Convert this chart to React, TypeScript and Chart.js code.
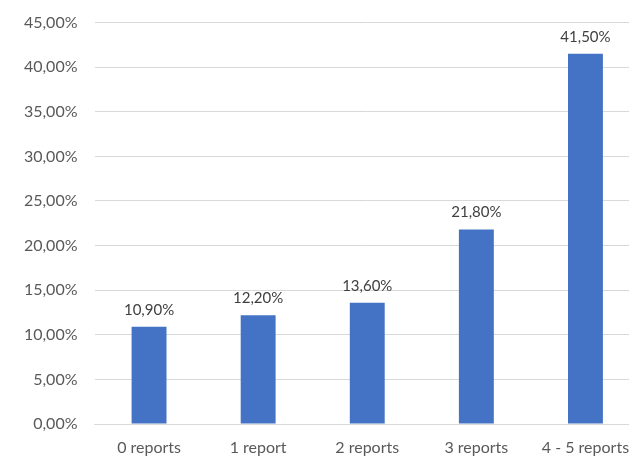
import React, { useEffect, useRef } from "react";
import { Chart, registerables } from "chart.js";

Chart.register(...registerables);

const categories = ["0 reports", "1 report", "2 reports", "3 reports", "4 - 5 reports"];
const values = [10.9, 12.2, 13.6, 21.8, 41.5];
const yMax = 45;
const yStep = 5;

const fmt = (v: number) => v.toFixed(2).replace(".", ",") + "%";

const valueLabels = {
  id: "valueLabels",
  afterDatasetsDraw(chart: any) {
    const ctx = chart.ctx;
    const meta = chart.getDatasetMeta(0);
    ctx.save();
    ctx.font = "15px Lato";
    ctx.fillStyle = "#404040";
    ctx.textAlign = "center";
    ctx.textBaseline = "middle";
    meta.data.forEach((bar: any, i: number) => {
      ctx.fillText(fmt(values[i]), bar.x, bar.y - 17);
    });
    ctx.restore();
  },
};

export default function App() {
  const ref = useRef<HTMLCanvasElement>(null);
  useEffect(() => {
    if (!ref.current) return;
    const chart = new Chart(ref.current, {
      type: "bar",
      data: {
        labels: categories,
        datasets: [
          {
            data: values,
            backgroundColor: "#4472C4",
            barPercentage: 0.32,
            categoryPercentage: 1,
          },
        ],
      },
      options: {
        animation: false,
        responsive: false,
        maintainAspectRatio: false,
        layout: { padding: { top: 18, left: 0, right: 5, bottom: 0 } },
        plugins: { legend: { display: false }, tooltip: { enabled: false } },
        scales: {
          x: {
            afterFit: (s: any) => { s.height = 32; },
            grid: { display: false, drawTicks: false },
            border: { display: true, color: "#d9d9d9", width: 1 },
            ticks: { color: "#595959", font: { family: "Lato", size: 16 }, padding: 14, maxRotation: 0, autoSkip: false },
          },
          y: {
            min: 0,
            max: yMax,
            afterFit: (s: any) => { s.width = 94.5; },
            grid: { color: "#d9d9d9", drawTicks: false },
            border: { display: false },
            ticks: {
              stepSize: yStep,
              color: "#595959",
              font: { family: "Lato", size: 16 },
              padding: 17,
              callback: (v: any) => fmt(Number(v)),
            },
          },
        },
      },
      plugins: [valueLabels],
    });
    return () => chart.destroy();
  }, []);
  return (
    <div style={{ position: "fixed", left: 0, top: 0, width: 629, height: 456, overflow: "hidden", background: "#fff" }}>
      <canvas ref={ref} width={645} height={460} style={{ position: "absolute", left: 0, top: -4, width: 645, height: 460 }} />
    </div>
  );
}
